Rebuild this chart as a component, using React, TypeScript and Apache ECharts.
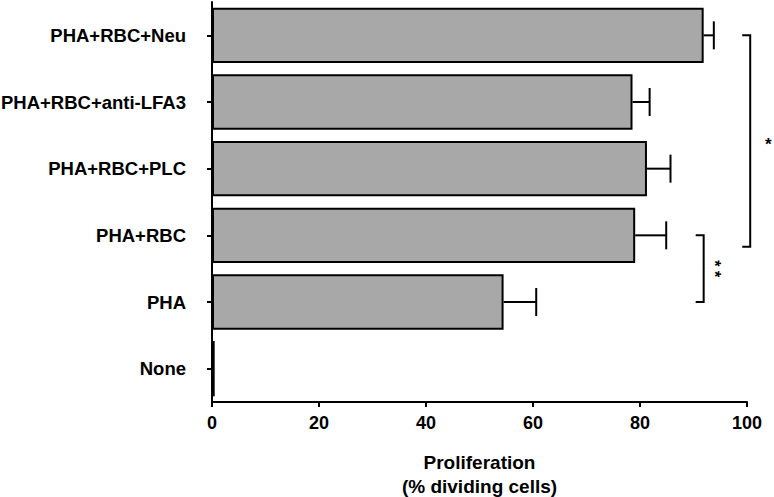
import React, { useEffect, useRef } from "react";
import * as echarts from "echarts";

const categories = ["None", "PHA", "PHA+RBC", "PHA+RBC+PLC", "PHA+RBC+anti-LFA3", "PHA+RBC+Neu"];
const values = [0.5, 54.5, 79.1, 81.3, 78.6, 91.9];
const errors = [0, 6.1, 5.8, 4.4, 3.2, 1.9];
const xTicks = [0, 20, 40, 60, 80, 100];
// bracket: x value, top category index, bottom category index, significance label
const bracketX = [100.6, 91.9];
const bracketTop = [5, 2];
const bracketBottom = [1.83, 1];
const bracketStars = ["*", "* *"];

const FONT = "'Liberation Sans', Arial, sans-serif";

export default function App() {
  const ref = useRef<HTMLDivElement>(null);
  useEffect(() => {
    if (!ref.current) return;
    const chart = echarts.init(ref.current, null, { renderer: "svg" });
    const errData = values.map((v, i) => [i, v, errors[i]]);
    const brData = bracketX.map((x, i) => [x, bracketTop[i], bracketBottom[i]]);
    const catY = (api: any, x: number, c: number) => {
      const lo = Math.floor(c);
      const hi = Math.ceil(c);
      const p1 = api.coord([x, lo]);
      const p2 = api.coord([x, hi]);
      const f = c - lo;
      return [p1[0], p1[1] + (p2[1] - p1[1]) * f];
    };
    chart.setOption({
      animation: false,
      grid: { left: 212, right: 27, top: 2, bottom: 95, containLabel: false, outerBoundsMode: "none" },
      xAxis: {
        type: "value",
        min: xTicks[0],
        max: xTicks[xTicks.length - 1],
        interval: 20,
        splitLine: { show: false },
        axisLine: { show: true, lineStyle: { color: "#000", width: 2 } },
        axisTick: { show: true, length: 5, lineStyle: { color: "#000", width: 2 } },
        axisLabel: { color: "#000", fontSize: 18, fontWeight: "bold", fontFamily: FONT, margin: 12 },
        name: "Proliferation\n(% dividing cells)",
        nameLocation: "middle",
        nameGap: 48,
        nameTextStyle: { color: "#000", fontSize: 19, fontWeight: "bold", fontFamily: FONT, lineHeight: 24, verticalAlign: "top" },
      },
      yAxis: {
        type: "category",
        data: categories,
        axisLine: { show: true, lineStyle: { color: "#000", width: 2 } },
        axisTick: { show: true, length: 5, alignWithLabel: true, lineStyle: { color: "#000", width: 2 } },
        axisLabel: { color: "#000", fontSize: 18.5, fontWeight: "bold", fontFamily: FONT, margin: 26 },
      },
      series: [
        {
          type: "bar",
          data: values,
          barCategoryGap: "17%",
          itemStyle: { color: "#a8a8a8", borderColor: "#000", borderWidth: 2 },
        },
        {
          type: "custom",
          data: errData,
          encode: { x: 1, y: 0 },
          z: 3,
          renderItem: (params: any, api: any) => {
            const idx = api.value(0);
            const v = api.value(1);
            const e = api.value(2);
            if (!e) return null;
            const s = api.coord([v, idx]);
            const t = api.coord([v + e, idx]);
            return {
              type: "group",
              children: [
                { type: "line", shape: { x1: s[0], y1: s[1], x2: t[0], y2: t[1] }, style: { stroke: "#000", lineWidth: 2 } },
                { type: "line", shape: { x1: t[0], y1: t[1] - 14, x2: t[0], y2: t[1] + 14 }, style: { stroke: "#000", lineWidth: 2 } },
              ],
            };
          },
        },
        {
          type: "custom",
          data: brData,
          encode: { x: 0, y: 1 },
          clip: false,
          z: 3,
          renderItem: (params: any, api: any) => {
            const x = api.value(0);
            const a = catY(api, x, bracketTop[params.dataIndex]);
            const b = catY(api, x, bracketBottom[params.dataIndex]);
            const label = bracketStars[params.dataIndex];
            const single = label.length === 1;
            const midY = (a[1] + b[1]) / 2;
            const textEl = single
              ? {
                  type: "text",
                  x: a[0] + 18,
                  y: midY + 3,
                  style: { text: label, fill: "#000", fontSize: 17, fontWeight: "bold", fontFamily: FONT, align: "center", verticalAlign: "middle" },
                }
              : {
                  type: "text",
                  x: a[0] + 11,
                  y: midY,
                  rotation: -Math.PI / 2,
                  style: { text: label, fill: "#000", fontSize: 16, fontWeight: "bold", fontFamily: FONT, align: "center", verticalAlign: "middle" },
                };
            return {
              type: "group",
              children: [
                {
                  type: "polyline",
                  shape: { points: [[a[0] - 8, a[1]], [a[0], a[1]], [b[0], b[1]], [b[0] - 8, b[1]]] },
                  style: { stroke: "#000", lineWidth: 2, fill: "none" },
                },
                textEl,
              ],
            };
          },
        },
      ],
    });
    return () => chart.dispose();
  }, []);
  return <div ref={ref} style={{ position: "fixed", left: 0, top: 0, width: 774, height: 497, background: "#fff" }} />;
}
